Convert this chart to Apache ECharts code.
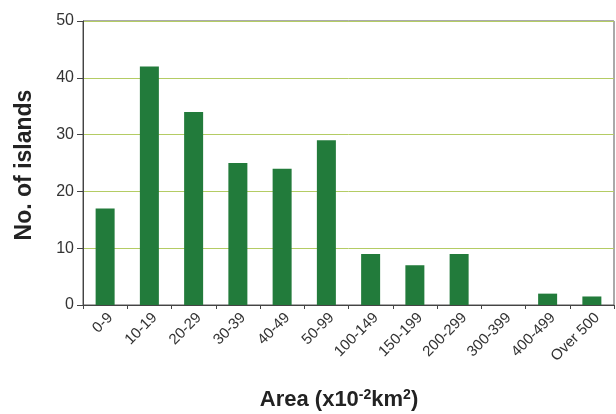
<!DOCTYPE html>
<html>
<head>
<meta charset="utf-8">
<script src="https://cdn.jsdelivr.net/npm/echarts@6/dist/echarts.min.js"></script>
<style>
  html, body { margin: 0; padding: 0; background: #fff; }
  #chart { width: 616px; height: 414px; }
</style>
</head>
<body>
<div id="chart"></div>
<script>
// Island size classes (area in x10^-2 km^2) and number of islands in each
const categories = ['0-9', '10-19', '20-29', '30-39', '40-49', '50-99',
  '100-149', '150-199', '200-299', '300-399', '400-499', 'Over 500'];
const islandCounts = [17, 42, 34, 25, 24, 29, 9, 7, 9, 0, 2, 1.5];
const yTicks = [0, 10, 20, 30, 40, 50];

const FONT = '"Liberation Sans", Arial, Helvetica, sans-serif';

const chart = echarts.init(document.getElementById('chart'), null, { renderer: 'canvas' });

chart.setOption({
  backgroundColor: '#ffffff',
  animation: false,
  grid: {
    left: 83, right: 2, top: 21, bottom: 109,
    show: true, borderColor: '#555', borderWidth: 1, backgroundColor: 'transparent'
  },
  xAxis: {
    type: 'category',
    data: categories,
    axisLine: { lineStyle: { color: '#444', width: 1 } },
    axisTick: { show: true, length: 4, lineStyle: { color: '#444' } },
    axisLabel: {
      rotate: 45, margin: 5, fontSize: 15, color: '#333', fontFamily: FONT,
      interval: 0, verticalAlign: 'top'
    },
    splitLine: { show: false }
  },
  yAxis: {
    type: 'value',
    min: yTicks[0], max: yTicks[yTicks.length - 1], interval: 10,
    axisLine: { show: true, lineStyle: { color: '#444', width: 1 } },
    axisTick: { show: true, length: 6, lineStyle: { color: '#444' } },
    axisLabel: { fontSize: 16, color: '#333', fontFamily: FONT, margin: 9 },
    splitLine: { show: true, lineStyle: { color: '#b4cc64', width: 1 } }
  },
  title: [
    {
      text: 'Area (x10{sup|-2}km{sup|2})',
      left: 334, top: 383, textAlign: 'center',
      textStyle: {
        fontSize: 22, fontWeight: 'bold', color: '#222', fontFamily: FONT,
        rich: {
          sup: { fontSize: 14, fontWeight: 'bold', color: '#222', fontFamily: FONT,
                 verticalAlign: 'top', padding: [0, 0, 9, 0] }
        }
      }
    }
  ],
  graphic: [
    {
      type: 'text',
      x: 25, y: 165, rotation: Math.PI / 2,
      style: {
        text: 'No. of islands', fill: '#222',
        font: 'bold 23px ' + FONT,
        textAlign: 'center', textVerticalAlign: 'middle'
      }
    }
  ],
  series: [
    {
      type: 'bar',
      data: islandCounts,
      barWidth: 19,
      itemStyle: { color: '#227b3b' }
    }
  ]
});
</script>
</body>
</html>
